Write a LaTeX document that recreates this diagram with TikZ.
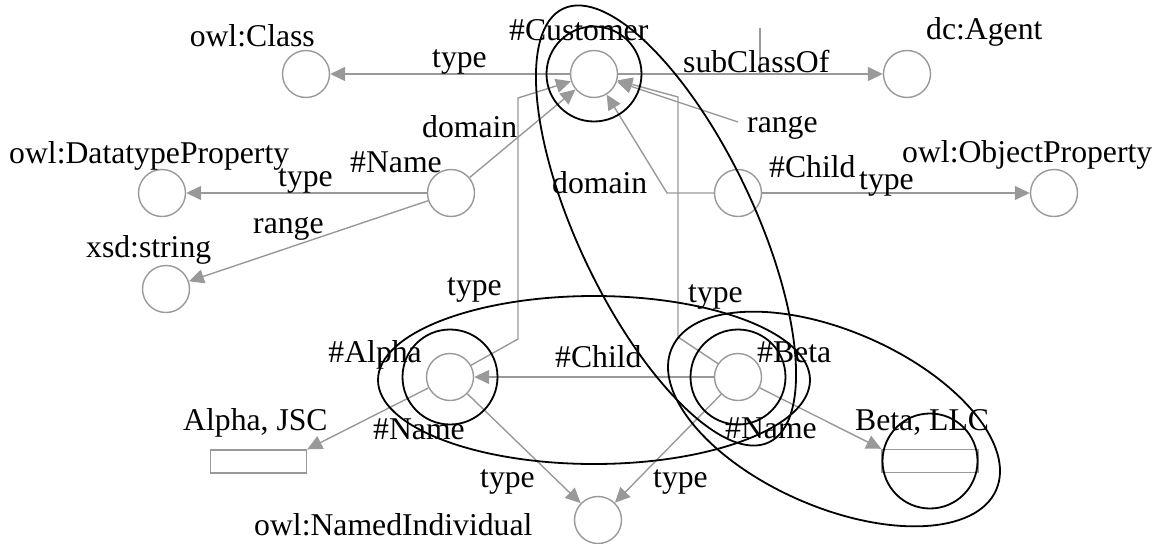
\documentclass[tikz,border=0pt]{standalone}
\usepackage{fontspec}
\setmainfont{Liberation Serif}
\usetikzlibrary{arrows.meta}
\definecolor{edgegray}{RGB}{153,153,153}
\begin{document}
\begin{tikzpicture}[x=1pt,y=-1pt,
  gnode/.style={circle,draw=edgegray,line width=1.4pt,minimum size=47pt,inner sep=0pt},
  lit/.style={rectangle,draw=edgegray,line width=1.4pt,minimum width=96pt,minimum height=23pt,inner sep=0pt},
  edge/.style={draw=edgegray,line width=1.4pt,-{Triangle[length=15pt,width=14pt]}},
  plainline/.style={draw=edgegray,line width=1.4pt},
  hull/.style={draw=black,line width=1.8pt},
  lbl/.style={inner sep=0pt,font=\fontsize{31.7}{38}\selectfont},
]
\useasboundingbox (0,0) rectangle (1158,543);
% resource nodes
\node[gnode] (cls) at (306,74) {};
\node[gnode] (cust) at (594,74) {};
\node[gnode] (agent) at (907,74) {};
\node[gnode] (dtp) at (162,193) {};
\node[gnode] (name) at (451,193) {};
\node[gnode] (child) at (738,193) {};
\node[gnode] (op) at (1054,193) {};
\node[gnode] (xsd) at (166,289) {};
\node[gnode] (alpha) at (450,377) {};
\node[gnode] (beta) at (738,377) {};
\node[gnode] (ni) at (598,520) {};
\node[lit] (jsc) at (258.5,461.5) {};
\node[lit] (llc) at (930,461) {};
% bend points
\coordinate (a1) at (518,339);
\coordinate (a2) at (518,98);
\coordinate (b1) at (678,337);
\coordinate (b2) at (678,97);
\coordinate (cd1) at (667,193);
\coordinate (rng) at (738,122);
\coordinate (tk1) at (760,28);
\coordinate (tk2) at (760,75);
% edges
\draw[edge] (cust) -- (cls);
\draw[edge] (cust) -- (agent);
\draw[plainline] (tk1) -- (tk2);
\draw[edge] (name) -- (dtp);
\draw[edge] (name) -- (xsd);
\draw[edge] (name) -- (cust);
\draw[edge] (child) -- (cd1) -- (cust);
\draw[edge] (rng) -- (cust);
\draw[edge] (child) -- (op);
\draw[edge] (alpha) -- (a1) -- (a2) -- (cust);
\draw[edge] (beta) -- (b1) -- (b2) -- (cust);
\draw[edge] (beta) -- (alpha);
\draw[edge] (alpha) -- (jsc.north east);
\draw[edge] (beta) -- (llc.north west);
\draw[edge] (alpha) -- (ni);
\draw[edge] (beta) -- (ni);
% labels
\node[lbl,anchor=base east] (lcls) at (315,47) {owl:Class};
\node[lbl,anchor=base west] (lcust) at (509,41) {\#Customer};
\node[lbl,anchor=base west] (lagent) at (926,40) {dc:Agent};
\node[lbl,anchor=base west] (ltype1) at (432,67) {type};
\node[lbl,anchor=base west] (lsub) at (683,72) {subClassOf};
\node[lbl,anchor=base west] (lrange1) at (747,132) {range};
\node[lbl,anchor=base west] (ldom1) at (422,137) {domain};
\node[lbl,anchor=base west] (lname) at (350,172) {\#Name};
\node[lbl,anchor=base west] (ldtp) at (9,163) {owl:DatatypeProperty};
\node[lbl,anchor=base west] (ltype2) at (278,186) {type};
\node[lbl,anchor=base west] (lrange2) at (253,233) {range};
\node[lbl,anchor=base west] (lxsd) at (86,257) {xsd:string};
\node[lbl,anchor=base west] (ldom2) at (552,193) {domain};
\node[lbl,anchor=base west] (lchild) at (769,177) {\#Child};
\node[lbl,anchor=base west] (ltype3) at (859,189) {type};
\node[lbl,anchor=base west] (lop) at (902,162) {owl:ObjectProperty};
\node[lbl,anchor=base west] (ltype4) at (447,295) {type};
\node[lbl,anchor=base west] (ltype5) at (688,302) {type};
\node[lbl,anchor=base east] (lalpha) at (422,362) {\#Alpha};
\node[lbl,anchor=base west] (lchild2) at (555,367) {\#Child};
\node[lbl,anchor=base west] (lbeta) at (757,362) {\#Beta};
\node[lbl,anchor=base west] (lname2) at (373,439) {\#Name};
\node[lbl,anchor=base west] (lname3) at (725,438) {\#Name};
\node[lbl,anchor=base west] (ljsc) at (183,430) {Alpha, JSC};
\node[lbl,anchor=base west] (lllc) at (855,430) {Beta, LLC};
\node[lbl,anchor=base west] (ltype6) at (480,487) {type};
\node[lbl,anchor=base west] (ltype7) at (653,487) {type};
\node[lbl,anchor=base west] (lni) at (254,535) {owl:NamedIndividual};
% hulls
\draw[hull] (cust.center) circle[radius=47.5pt];
\draw[hull] (alpha.center) circle[radius=47.5pt];
\draw[hull] (beta.center) circle[radius=47.5pt];
\draw[hull] (llc.center) circle[radius=47.5pt];
\draw[hull,rotate around={-64.6:(666,225.5)}] (666,225.5) ellipse[x radius=240pt,y radius=88pt];
\draw[hull,rotate around={-23.6:(834,419)}] (834,419) ellipse[x radius=177pt,y radius=88pt];
\draw[hull] (594,380) ellipse[x radius=216pt,y radius=84pt];
\end{tikzpicture}
\end{document}
